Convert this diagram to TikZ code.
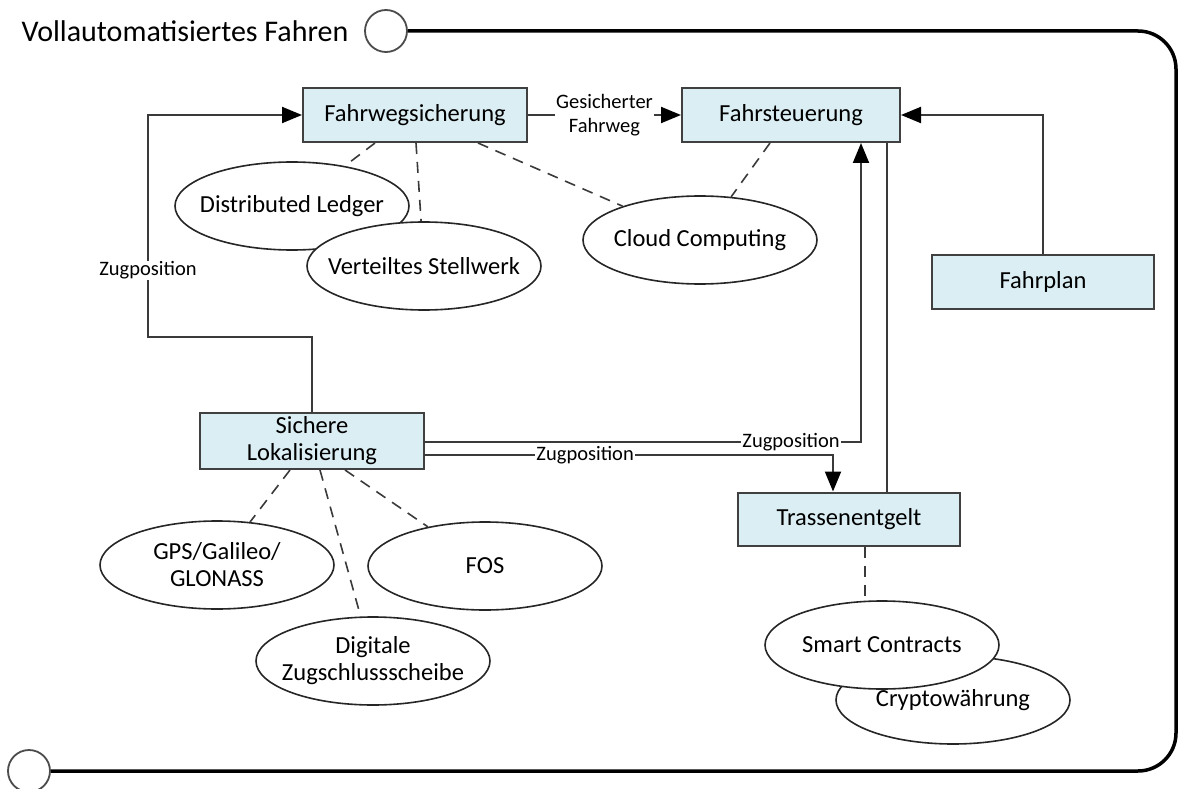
\documentclass[tikz,border=0pt]{standalone}
\usepackage{fontspec}
\setmainfont{Carlito}
\usetikzlibrary{arrows.meta,calc,shapes.geometric}
\definecolor{boxfill}{HTML}{DAEEF3}
\definecolor{boxline}{HTML}{404040}
\definecolor{linkline}{HTML}{3A3A3A}
\begin{document}
\begin{tikzpicture}[x=1pt,y=-1pt,
  boxnode/.style={draw=boxline, line width=2pt, fill=boxfill, minimum width=224pt,
    minimum height=54pt, inner sep=0pt, align=center, font=\fontsize{24.5}{27}\selectfont},
  oval/.style={ellipse, draw=black!85, line width=1.6pt, fill=white, minimum width=234pt,
    minimum height=88pt, inner xsep=-40pt, inner ysep=0pt, align=center,
    font=\fontsize{24.5}{27}\selectfont},
  link/.style={draw=linkline, line width=2pt},
  tip/.style={link, -{Triangle[length=20pt,width=16pt,color=black,fill=black]}},
  assoc/.style={draw=linkline, line width=1.6pt, dash pattern=on 11pt off 8pt},
  lbl/.style={fill=white, inner sep=1pt, align=center, font=\fontsize{20.5}{24}\selectfont},
  port/.style={circle, draw=black!70, line width=1.8pt, fill=white, minimum size=42pt, inner sep=0pt},
  frame/.style={line width=3.5pt, rounded corners=38pt}]

\useasboundingbox (0,0) rectangle (1179,789);

% outer frame with its two ports
\node[anchor=west, font=\fontsize{30}{33}\selectfont] (title) at (18,31) {Vollautomatisiertes Fahren};
\node[port] (tport) at (386,31) {};
\node[port] (bport) at (29,771) {};
\draw[frame] (tport.east) -- (1176,31) -- (1176,771) -- (bport.east);

% function blocks
\node[boxnode] (fw) at (415,115) {Fahrwegsicherung};
\node[boxnode, minimum width=218pt] (fs) at (791,115) {Fahrsteuerung};
\node[boxnode, minimum width=222pt] (fp) at (1043,282) {Fahrplan};
\node[boxnode, minimum height=56pt] (sl) at (312,441) {Sichere\\Lokalisierung};
\node[boxnode, minimum width=222pt, minimum height=53pt] (te) at (849,519) {Trassenentgelt};

% technologies
\node[oval] (dl) at (292,206) {Distributed Ledger};
\node[oval] (vs) at (424,266) {Verteiltes Stellwerk};
\node[oval] (cc) at (700,240) {Cloud Computing};
\node[oval] (gps) at (217,565) {GPS/Galileo/\\GLONASS};
\node[oval] (fos) at (485,566) {FOS};
\node[oval] (dz) at (373,661) {Digitale\\Zugschlussscheibe};
\node[oval] (cw) at (953,700) {Cryptowährung};
\node[oval] (sc) at (882,645) {Smart Contracts};

% associations
\draw[assoc] ($(fw.south)+(-40,0)$) -- (dl);
\draw[assoc] ($(fw.south)+(1,0)$) -- (vs);
\draw[assoc] ($(fw.south)+(63,0)$) -- (cc);
\draw[assoc] ($(fs.south)+(-21,0)$) -- (cc);
\draw[assoc] ($(sl.south)+(-22,0)$) -- (gps);
\draw[assoc] ($(sl.south)+(8,0)$) -- (dz);
\draw[assoc] ($(sl.south)+(33,0)$) -- (fos);
\draw[assoc] ($(te.south)+(16,0)$) -- (sc.north -| {$(te.south)+(16,0)$});

% information flows
\draw[tip] (fw.east) -- node[lbl] {Gesicherter\\Fahrweg} (fs.west);
\draw[tip] (fp.north) |- (fs.east);
\draw[tip] (sl.north) -- (312,337) -| (148,115)
  node[lbl, pos=0.65] {Zugposition} -- (fw.west);
\draw[tip] (424,442) -| node[lbl, pos=0.42] {Zugposition} ($(fs.south)+(70,0)$);
\draw[tip] (424,455) -| node[lbl, pos=0.197] {Zugposition} ($(te.north)+(-16,0)$);
\draw[link] ($(te.north)+(38,0)$) -- ($(fs.south)+(96,0)$);
\end{tikzpicture}
\end{document}
